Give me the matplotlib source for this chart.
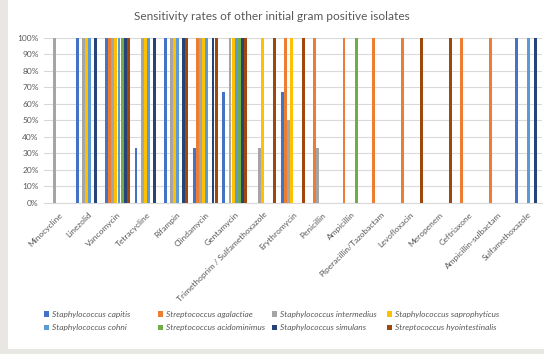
import numpy as np
import matplotlib
matplotlib.use("Agg")
import matplotlib.pyplot as plt
from matplotlib.patches import Rectangle, Patch
from matplotlib.ticker import PercentFormatter, MultipleLocator

plt.rcParams['font.family'] = ['Lato', 'DejaVu Sans']

categories = ["Minocycline", "Linezolid", "Vancomycin", "Tetracycline", "Rifampin",
              "Clindamycin", "Gentamycin", "Trimethoprim / Sulfamethoxazole",
              "Erythromycin", "Penicillin", "Ampicillin", "Piperacillin/Tazobactam",
              "Levofloxacin", "Meropenem", "Ceftriaxone", "Ampicillin-sulbactam",
              "Sulfamethoxazole"]

series_names = ["Staphylococcus capitis", "Streptococcus agalactiae",
                "Staphylococcus intermedius", "Staphylococcus saprophyticus",
                "Staphylococcus cohni", "Streptococcus acidominimus",
                "Staphylococcus simulans", "Streptococcus hyointestinalis"]

# sensitivity (%) per antibiotic, one list per isolate
capitis         = [0, 100, 100, 33, 100, 33, 67, 0, 67, 0, 0, 0, 0, 0, 0, 0, 100]
agalactiae      = [0, 0, 100, 0, 0, 100, 0, 0, 100, 100, 100, 100, 100, 0, 100, 100, 0]
intermedius     = [100, 100, 100, 100, 100, 100, 100, 33, 50, 33, 0, 0, 0, 0, 0, 0, 0]
saprophyticus   = [0, 100, 100, 100, 100, 100, 100, 100, 100, 0, 0, 0, 0, 0, 0, 0, 0]
cohni           = [0, 100, 100, 100, 100, 100, 100, 0, 0, 0, 0, 0, 0, 0, 0, 0, 100]
acidominimus    = [0, 0, 100, 0, 0, 0, 100, 0, 0, 0, 100, 0, 0, 0, 0, 0, 0]
simulans        = [0, 100, 100, 100, 100, 100, 100, 0, 0, 0, 0, 0, 0, 0, 0, 0, 100]
hyointestinalis = [0, 0, 100, 0, 100, 100, 100, 100, 100, 0, 0, 0, 100, 100, 0, 0, 0]

series_values = [capitis, agalactiae, intermedius, saprophyticus,
                 cohni, acidominimus, simulans, hyointestinalis]
colors = ["#4472C4", "#ED7D31", "#A5A5A5", "#FFC000",
          "#5B9BD5", "#70AD47", "#264478", "#9E480E"]

text_color = "#595959"
grid_color = "#D9D9D9"

fig = plt.figure(figsize=(5.44, 3.54), dpi=100)
fig.patch.set_facecolor("white")

# window frame around the chart area
fig.patches.append(Rectangle((0, 0), 8 / 544, 1, transform=fig.transFigure,
                             facecolor="#E9E7E4", edgecolor="none", zorder=0))
fig.patches.append(Rectangle((0, 0), 1, 5 / 354, transform=fig.transFigure,
                             facecolor="#E9E7E4", edgecolor="none", zorder=0))

ax = fig.add_axes([44.3 / 544, 1 - 202.7 / 354, 497.7 / 544, 165 / 354])

n_series = len(series_values)
x = np.arange(len(categories))
width = 1 / (n_series + 1.5)
for j, (vals, col, name) in enumerate(zip(series_values, colors, series_names)):
    ax.bar(x + (j - (n_series - 1) / 2) * width, vals, width=width * 0.95,
           color=col, label=name, zorder=3, linewidth=0)

ax.set_xlim(-0.5, len(categories) - 0.5)
ax.set_ylim(0, 100)
ax.yaxis.set_major_locator(MultipleLocator(10))
ax.yaxis.set_major_formatter(PercentFormatter(decimals=0))
ax.grid(axis="y", color=grid_color, linewidth=0.8, zorder=0)
for side in ["top", "right", "left"]:
    ax.spines[side].set_visible(False)
ax.spines["bottom"].set_color(grid_color)
ax.spines["bottom"].set_linewidth(0.8)
ax.tick_params(axis="both", length=0, colors=text_color, labelsize=6)
ax.tick_params(axis="y", pad=4)
ax.set_xticks(x)
ax.set_xticklabels(categories, rotation=45, ha="right", rotation_mode="anchor",
                   fontsize=6, color=text_color)
ax.tick_params(axis="x", pad=6)

fig.text(0.5, 1 - 16 / 354, "Sensitivity rates of other initial gram positive isolates",
         ha="center", va="center", fontsize=8.6, color=text_color)

# legend: two rows of four entries
col_x = [44 / 544, 158 / 544, 271.5 / 544, 386.5 / 544]
handles = [Patch(facecolor=c, edgecolor="none") for c in colors]
for k in range(4):
    fig.legend([handles[k], handles[k + 4]], [series_names[k], series_names[k + 4]],
               loc="upper left", bbox_to_anchor=(col_x[k], 1 - 311 / 354),
               frameon=False, ncol=1, handlelength=0.65, handleheight=0.65,
               handletextpad=0.35, labelspacing=0.75, borderpad=0, borderaxespad=0,
               prop={"size": 6, "style": "italic"}, labelcolor=text_color)

fig.savefig("out.png", dpi=100)
